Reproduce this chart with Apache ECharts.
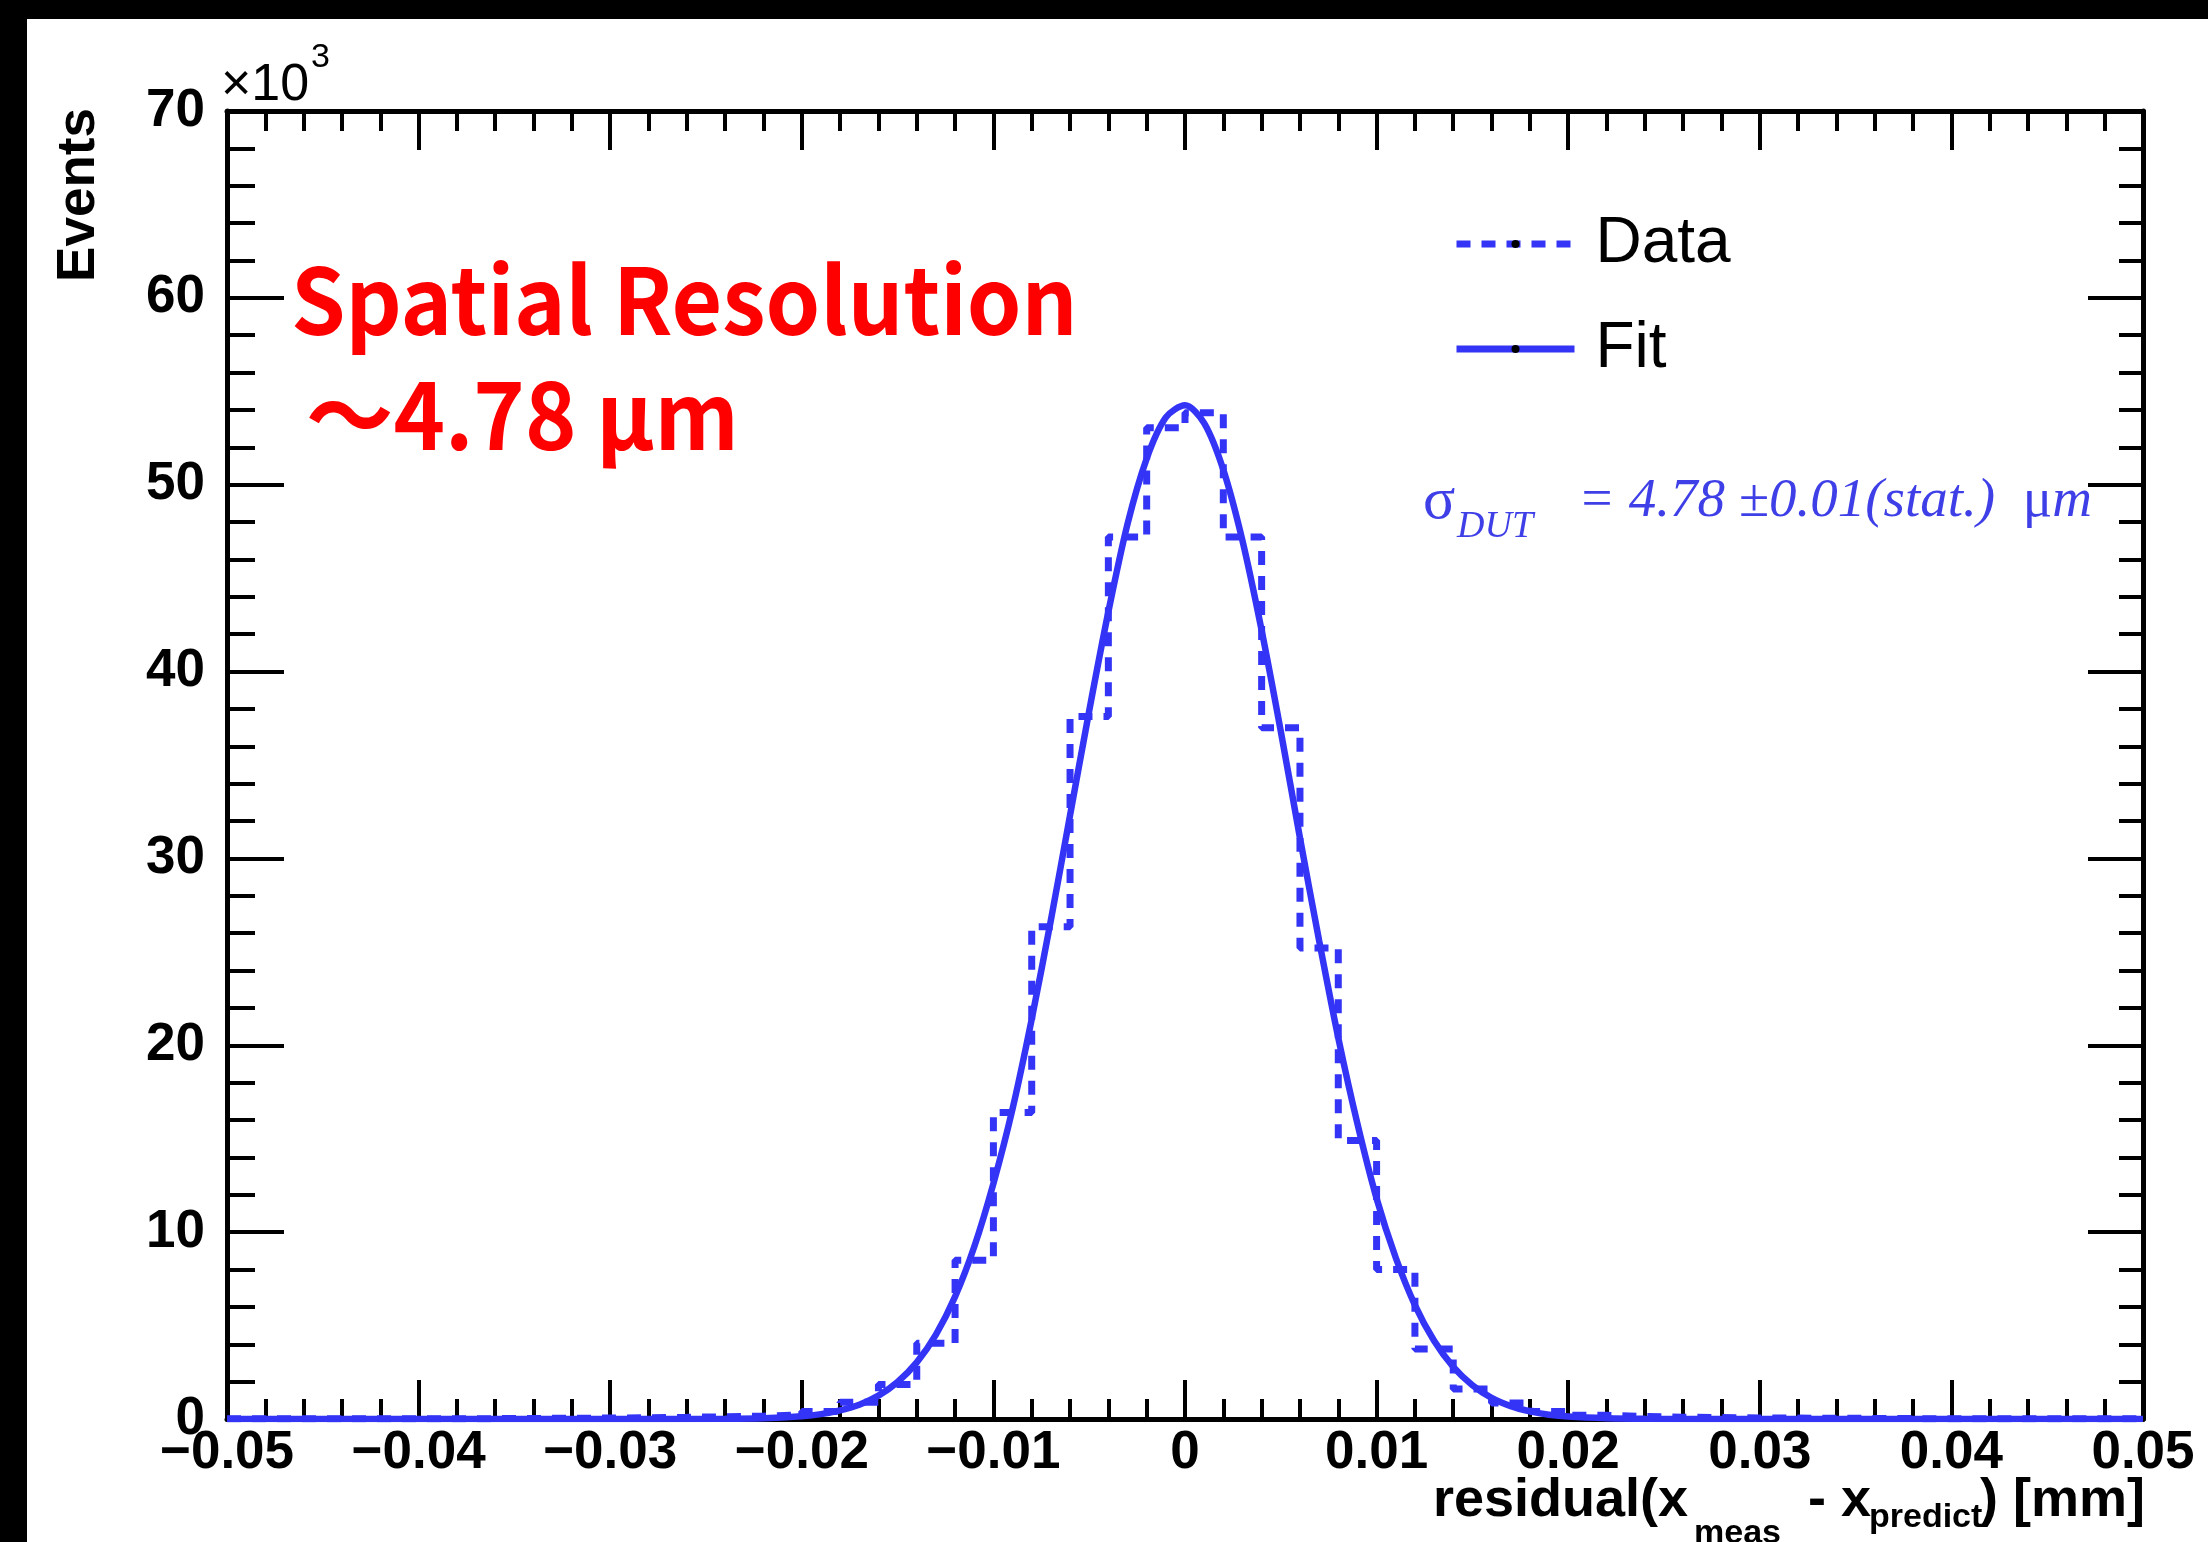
<!DOCTYPE html>
<html>
<head>
<meta charset="utf-8">
<script src="https://cdn.jsdelivr.net/npm/echarts@6/dist/echarts.min.js"></script>
<style>
  html, body { margin: 0; padding: 0; background: #ffffff; }
  #chart { width: 2208px; height: 1542px; }
</style>
</head>
<body>
<div id="chart"></div>
<script>
// ---------------- data ----------------
// histogram: lower bin edges [mm] and counts (in units of 10^3 events)
const binLowEdges = [
  -0.050, -0.048, -0.046, -0.044, -0.042, -0.040, -0.038, -0.036, -0.034, -0.032,
  -0.030, -0.028, -0.026, -0.024, -0.022, -0.020, -0.018, -0.016, -0.014, -0.012,
  -0.010, -0.008, -0.006, -0.004, -0.002,  0.000,  0.002,  0.004,  0.006,  0.008,
   0.010,  0.012,  0.014,  0.016,  0.018,  0.020,  0.022,  0.024,  0.026,  0.028,
   0.030,  0.032,  0.034,  0.036,  0.038,  0.040,  0.042,  0.044,  0.046,  0.048
];
const lastBinHighEdge = 0.050;
const dataCounts = [
  0.01, 0.01, 0.01, 0.01, 0.02, 0.02, 0.02, 0.03, 0.04, 0.05,
  0.07, 0.09, 0.12, 0.15, 0.22, 0.40, 0.90, 1.85, 4.05, 8.50,
  16.4, 26.35, 37.6, 47.2, 53.05, 53.85, 47.2, 37.0, 25.2, 14.9,
  8.00, 3.75, 1.60, 0.85, 0.40, 0.20, 0.14, 0.10, 0.08, 0.06,
  0.05, 0.04, 0.03, 0.02, 0.02, 0.02, 0.01, 0.01, 0.01, 0.01
];
const fitX = [
  -0.050, -0.030, -0.024, -0.022, -0.020, -0.019, -0.018, -0.017, -0.016, -0.015,
  -0.014, -0.013, -0.012, -0.011, -0.010, -0.009, -0.008, -0.007, -0.006, -0.005,
  -0.004, -0.003, -0.002, -0.001, 0.000, 0.001, 0.002, 0.003, 0.004, 0.005,
   0.006, 0.007, 0.008, 0.009, 0.010, 0.011, 0.012, 0.013, 0.014, 0.015,
   0.016, 0.017, 0.018, 0.019, 0.020, 0.022, 0.024, 0.030, 0.050
];
const fitY = [
  0.0, 0.0, 0.01, 0.04, 0.15, 0.26, 0.46, 0.76, 1.25, 1.98,
  3.03, 4.52, 6.55, 9.22, 12.6, 16.6, 21.4, 26.7, 32.3, 37.9,
  43.2, 47.9, 51.4, 53.6, 54.25, 53.3, 50.8, 47.0, 42.2, 36.8,
  31.1, 25.6, 20.4, 15.8, 11.8, 8.63, 6.10, 4.19, 2.79, 1.81,
  1.13, 0.69, 0.41, 0.23, 0.13, 0.04, 0.01, 0.0, 0.0
];
const xTickLabels = ['\u22120.05', '\u22120.04', '\u22120.03', '\u22120.02', '\u22120.01', '0', '0.01', '0.02', '0.03', '0.04', '0.05'];
const yTickLabels = ['0', '10', '20', '30', '40', '50', '60', '70'];
const seriesNames = ['Data', 'Fit'];

// ---------------- chart ----------------
const X_MIN = -0.05, X_MAX = 0.05, X_STEP = 0.01;
const Y_MIN = 0, Y_MAX = 70, Y_STEP = 10;
const BLUE = '#3434f6';
const SIGMA_BLUE = '#3f3fe8';
const LABEL_FONT = "'Liberation Sans', Arial, Helvetica, sans-serif";
const SERIF_FONT = "'Liberation Serif', 'Times New Roman', serif";
const CJK_FONT = "'Noto Sans CJK SC', sans-serif";

const histPoints = binLowEdges.map((e, i) => [e, dataCounts[i]]);
histPoints.push([lastBinHighEdge, dataCounts[dataCounts.length - 1]]);
const fitPoints = fitX.map((x, i) => [x, fitY[i]]);

const chart = echarts.init(document.getElementById('chart'), null, { renderer: 'canvas' });

const axisLineStyle = { show: true, onZero: false, lineStyle: { color: '#000', width: 5 } };

const option = {
  backgroundColor: '#ffffff',
  animation: false,
  grid: { left: 227, right: 65, top: 111, bottom: 123, containLabel: false },
  legend: {
    data: seriesNames,
    orient: 'vertical',
    left: 1448,
    top: 207,
    itemWidth: 118,
    itemHeight: 10,
    itemGap: 41,
    lineStyle: { width: 7 },
    itemStyle: { color: '#000', borderWidth: 0 },
    textStyle: { fontSize: 64, fontFamily: LABEL_FONT, color: '#000', padding: [0, 0, 0, 16] }
  },
  xAxis: [
    {
      type: 'value', min: X_MIN, max: X_MAX, interval: X_STEP, position: 'bottom',
      axisLine: axisLineStyle,
      axisTick: { show: true, inside: true, length: 39, lineStyle: { color: '#000', width: 4 } },
      minorTick: { show: true, splitNumber: 5, length: 20, lineStyle: { color: '#000', width: 4 } },
      splitLine: { show: false }, minorSplitLine: { show: false },
      axisLabel: {
        show: true, margin: 8, fontSize: 53, fontWeight: 'bold', fontFamily: LABEL_FONT, color: '#000',
        formatter: (v) => xTickLabels[Math.round((v - X_MIN) / X_STEP)]
      }
    },
    {
      type: 'value', min: X_MIN, max: X_MAX, interval: X_STEP, position: 'top',
      axisLine: axisLineStyle,
      axisTick: { show: true, inside: true, length: 39, lineStyle: { color: '#000', width: 4 } },
      minorTick: { show: true, splitNumber: 5, length: 20, lineStyle: { color: '#000', width: 4 } },
      splitLine: { show: false }, minorSplitLine: { show: false },
      axisLabel: { show: false }
    }
  ],
  yAxis: [
    {
      type: 'value', min: Y_MIN, max: Y_MAX, interval: Y_STEP, position: 'left',
      axisLine: axisLineStyle,
      axisTick: { show: true, inside: true, length: 57, lineStyle: { color: '#000', width: 4 } },
      minorTick: { show: true, splitNumber: 5, length: 28, lineStyle: { color: '#000', width: 4 } },
      splitLine: { show: false }, minorSplitLine: { show: false },
      axisLabel: {
        show: true, margin: 22, fontSize: 53, fontWeight: 'bold', fontFamily: LABEL_FONT, color: '#000',
        formatter: (v) => yTickLabels[Math.round((v - Y_MIN) / Y_STEP)]
      }
    },
    {
      type: 'value', min: Y_MIN, max: Y_MAX, interval: Y_STEP, position: 'right',
      axisLine: axisLineStyle,
      axisTick: { show: true, inside: true, length: 55, lineStyle: { color: '#000', width: 4 } },
      minorTick: { show: true, splitNumber: 5, length: 24, lineStyle: { color: '#000', width: 4 } },
      splitLine: { show: false }, minorSplitLine: { show: false },
      axisLabel: { show: false }
    }
  ],
  series: [
    {
      name: seriesNames[0], type: 'line', step: 'end', data: histPoints,
      xAxisIndex: 0, yAxisIndex: 0, symbol: 'none', showSymbol: false, clip: true, z: 3,
      itemStyle: { color: BLUE },
      lineStyle: { color: BLUE, width: 7, type: [14, 11], cap: 'butt' }
    },
    {
      name: seriesNames[1], type: 'line', smooth: 0.3, data: fitPoints,
      xAxisIndex: 0, yAxisIndex: 0, symbol: 'none', showSymbol: false, clip: true, z: 4,
      itemStyle: { color: BLUE },
      lineStyle: { color: BLUE, width: 6.5, type: 'solid' }
    }
  ],
  graphic: [
    // dark frame strips of the screenshot
    { type: 'rect', left: 0, top: 0, shape: { width: 27, height: 1542 }, style: { fill: '#000' }, z: 100 },
    { type: 'rect', left: 0, top: 0, shape: { width: 2208, height: 19 }, style: { fill: '#000' }, z: 100 },
    // y title
    { type: 'text', x: 79, y: 195, rotation: Math.PI / 2,
      style: { text: 'Events', fontSize: 53, fontWeight: 'bold', fontFamily: LABEL_FONT, fill: '#000', align: 'center', verticalAlign: 'middle' } },
    // x10^3
    { type: 'text', x: 221, y: 86,
      style: { text: '\u00d710', fontSize: 52, fontFamily: LABEL_FONT, fill: '#000', align: 'left', verticalAlign: 'middle' } },
    { type: 'text', x: 311, y: 58,
      style: { text: '3', fontSize: 34, fontFamily: LABEL_FONT, fill: '#000', align: 'left', verticalAlign: 'middle' } },
    // x title
    { type: 'text', x: 1433, y: 1501,
      style: { text: 'residual(x', fontSize: 54, fontWeight: 'bold', fontFamily: LABEL_FONT, fill: '#000', align: 'left', verticalAlign: 'middle' } },
    { type: 'text', x: 1694, y: 1534,
      style: { text: 'meas', fontSize: 34, fontWeight: 'bold', fontFamily: LABEL_FONT, fill: '#000', align: 'left', verticalAlign: 'middle' } },
    { type: 'text', x: 1793, y: 1501,
      style: { text: ' - x', fontSize: 54, fontWeight: 'bold', fontFamily: LABEL_FONT, fill: '#000', align: 'left', verticalAlign: 'middle' } },
    { type: 'text', x: 1869, y: 1518,
      style: { text: 'predict', fontSize: 34, fontWeight: 'bold', fontFamily: LABEL_FONT, fill: '#000', align: 'left', verticalAlign: 'middle' } },
    { type: 'text', x: 1980, y: 1501,
      style: { text: ') [mm]', fontSize: 54, fontWeight: 'bold', fontFamily: LABEL_FONT, fill: '#000', align: 'left', verticalAlign: 'middle' } },
    // red annotation
    { type: 'text', x: 291, y: 300, scaleX: 0.95,
      style: { text: 'Spatial Resolution', fontSize: 92, fontWeight: 'bold', fontFamily: CJK_FONT, fill: '#ff0000', align: 'left', verticalAlign: 'middle' } },
    { type: 'text', x: 306, y: 415, scaleX: 0.95,
      style: { text: '\uff5e4.78 \u03bcm', fontSize: 92, fontWeight: 'bold', fontFamily: CJK_FONT, fill: '#ff0000', align: 'left', verticalAlign: 'middle' } },
    // sigma text
    { type: 'text', x: 1423, y: 502,
      style: { text: '\u03c3', fontSize: 60, fontFamily: SERIF_FONT, fill: SIGMA_BLUE, align: 'left', verticalAlign: 'middle' } },
    { type: 'text', x: 1457, y: 527,
      style: { text: 'DUT', fontSize: 38, fontStyle: 'italic', fontFamily: SERIF_FONT, fill: SIGMA_BLUE, align: 'left', verticalAlign: 'middle' } },
    { type: 'text', x: 1578, y: 502,
      style: {
        text: '{it|= 4.78 \u00b10.01(stat.)  }{up|\u03bc}{it|m}',
        fill: SIGMA_BLUE, align: 'left', verticalAlign: 'middle',
        rich: {
          it: { fontSize: 55, fontStyle: 'italic', fontFamily: SERIF_FONT, fill: SIGMA_BLUE, color: SIGMA_BLUE },
          up: { fontSize: 55, fontStyle: 'normal', fontFamily: SERIF_FONT, fill: SIGMA_BLUE, color: SIGMA_BLUE }
        }
      } }
  ]
};

chart.setOption(option);
</script>
</body>
</html>
